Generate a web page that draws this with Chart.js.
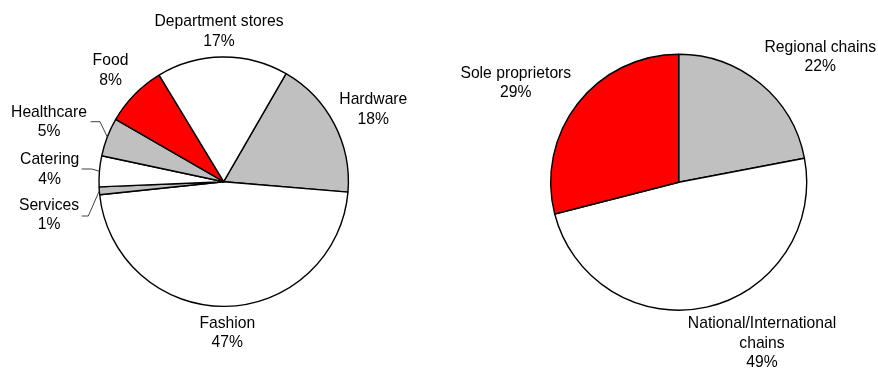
<!DOCTYPE html>
<html>
<head>
<meta charset="utf-8">
<script src="https://cdn.jsdelivr.net/npm/chart.js@4/dist/chart.umd.min.js"></script>
<style>
  html, body { margin: 0; padding: 0; background: #fff; }
  #wrap { position: relative; width: 878px; height: 370px; }
  #wrap canvas { position: absolute; left: 0; top: 0; }
</style>
</head>
<body>
<div id="wrap">
  <canvas id="sector" width="878" height="370"></canvas>
  <canvas id="owner" width="878" height="370"></canvas>
</div>
<script>
// Retail floor space by sector (percent)
const sectorLabels = ['Hardware', 'Fashion', 'Services', 'Catering', 'Healthcare', 'Food', 'Department stores'];
const sectorValues = [18, 47, 1, 4, 5, 8, 17];
const sectorColors = ['#C0C0C0', '#FFFFFF', '#C0C0C0', '#FFFFFF', '#C0C0C0', '#FF0000', '#FFFFFF'];

// Retail floor space by ownership type (percent)
const ownerLabels = ['Regional chains', 'National/International chains', 'Sole proprietors'];
const ownerValues = [22, 49, 29];
const ownerColors = ['#C0C0C0', '#FFFFFF', '#FF0000'];

// Label text lines and placement (page coordinates of first line centre)
const sectorLabelLayout = {
  'Hardware':          { lines: ['Hardware'], x: 373.3, y: 100 },
  'Fashion':           { lines: ['Fashion'], x: 227.3, y: 323.3 },
  'Services':          { lines: ['Services'], x: 49, y: 205.7, leader: { x0: 81.7, x1: 88.3, y: 216 } },
  'Catering':          { lines: ['Catering'], x: 49.7, y: 160, leader: { x0: 81.7, x1: 91.7, y: 169 } },
  'Healthcare':        { lines: ['Healthcare'], x: 49, y: 112.7, leader: { x0: 90.7, x1: 100, y: 121.7 } },
  'Food':              { lines: ['Food'], x: 110.5, y: 61 },
  'Department stores': { lines: ['Department stores'], x: 219, y: 22 }
};
const ownerLabelLayout = {
  'Regional chains':               { lines: ['Regional chains'], x: 820.3, y: 47.7 },
  'National/International chains': { lines: ['National/International', 'chains'], x: 762, y: 324 },
  'Sole proprietors':              { lines: ['Sole proprietors'], x: 515.8, y: 73.3 }
};

const FONT = '15.7px "Liberation Sans", Arial, sans-serif';
const LINE_H = 19.3;

// Draws category name + percentage next to each slice, with elbow leaders where set
const sliceLabels = {
  id: 'sliceLabels',
  afterDatasetsDraw(chart, args, opts) {
    const ctx = chart.ctx;
    const meta = chart.getDatasetMeta(0);
    const values = chart.data.datasets[0].data;
    const layout = opts.layout;
    ctx.save();
    ctx.font = FONT;
    ctx.fillStyle = '#000';
    ctx.textAlign = 'center';
    ctx.textBaseline = 'middle';
    chart.data.labels.forEach((name, i) => {
      const L = layout[name];
      if (!L) return;
      const lines = L.lines.concat([values[i] + '%']);
      lines.forEach((t, k) => ctx.fillText(t, L.x, L.y + k * LINE_H));
      if (L.leader) {
        const arc = meta.data[i];
        const p = arc.getProps(['x', 'y', 'startAngle', 'endAngle', 'outerRadius'], true);
        const mid = (p.startAngle + p.endAngle) / 2;
        const ex = p.x + Math.cos(mid) * p.outerRadius;
        const ey = p.y + Math.sin(mid) * p.outerRadius;
        ctx.beginPath();
        ctx.strokeStyle = '#404040';
        ctx.lineWidth = 1;
        ctx.moveTo(L.leader.x0, L.leader.y);
        ctx.lineTo(L.leader.x1, L.leader.y);
        ctx.lineTo(ex, ey);
        ctx.stroke();
      }
    });
    ctx.restore();
  }
};

function makePie(id, labels, values, colors, rotation, radius, padding, layout) {
  return new Chart(document.getElementById(id), {
    type: 'pie',
    data: {
      labels: labels,
      datasets: [{
        data: values,
        backgroundColor: colors,
        borderColor: '#000',
        borderWidth: 1.4,
        hoverOffset: 0
      }]
    },
    options: {
      responsive: false,
      animation: false,
      events: [],
      rotation: rotation,
      radius: radius,
      layout: { padding: padding },
      plugins: {
        legend: { display: false },
        tooltip: { enabled: false },
        sliceLabels: { layout: layout }
      }
    },
    plugins: [sliceLabels]
  });
}

makePie('sector', sectorLabels, sectorValues, sectorColors, 30, 124.7,
        { left: 0, right: 430.6, top: 0, bottom: 6.6 }, sectorLabelLayout);
makePie('owner', ownerLabels, ownerValues, ownerColors, 0, 128,
        { left: 479.4, right: 0, top: 0, bottom: 5.6 }, ownerLabelLayout);
</script>
</body>
</html>
